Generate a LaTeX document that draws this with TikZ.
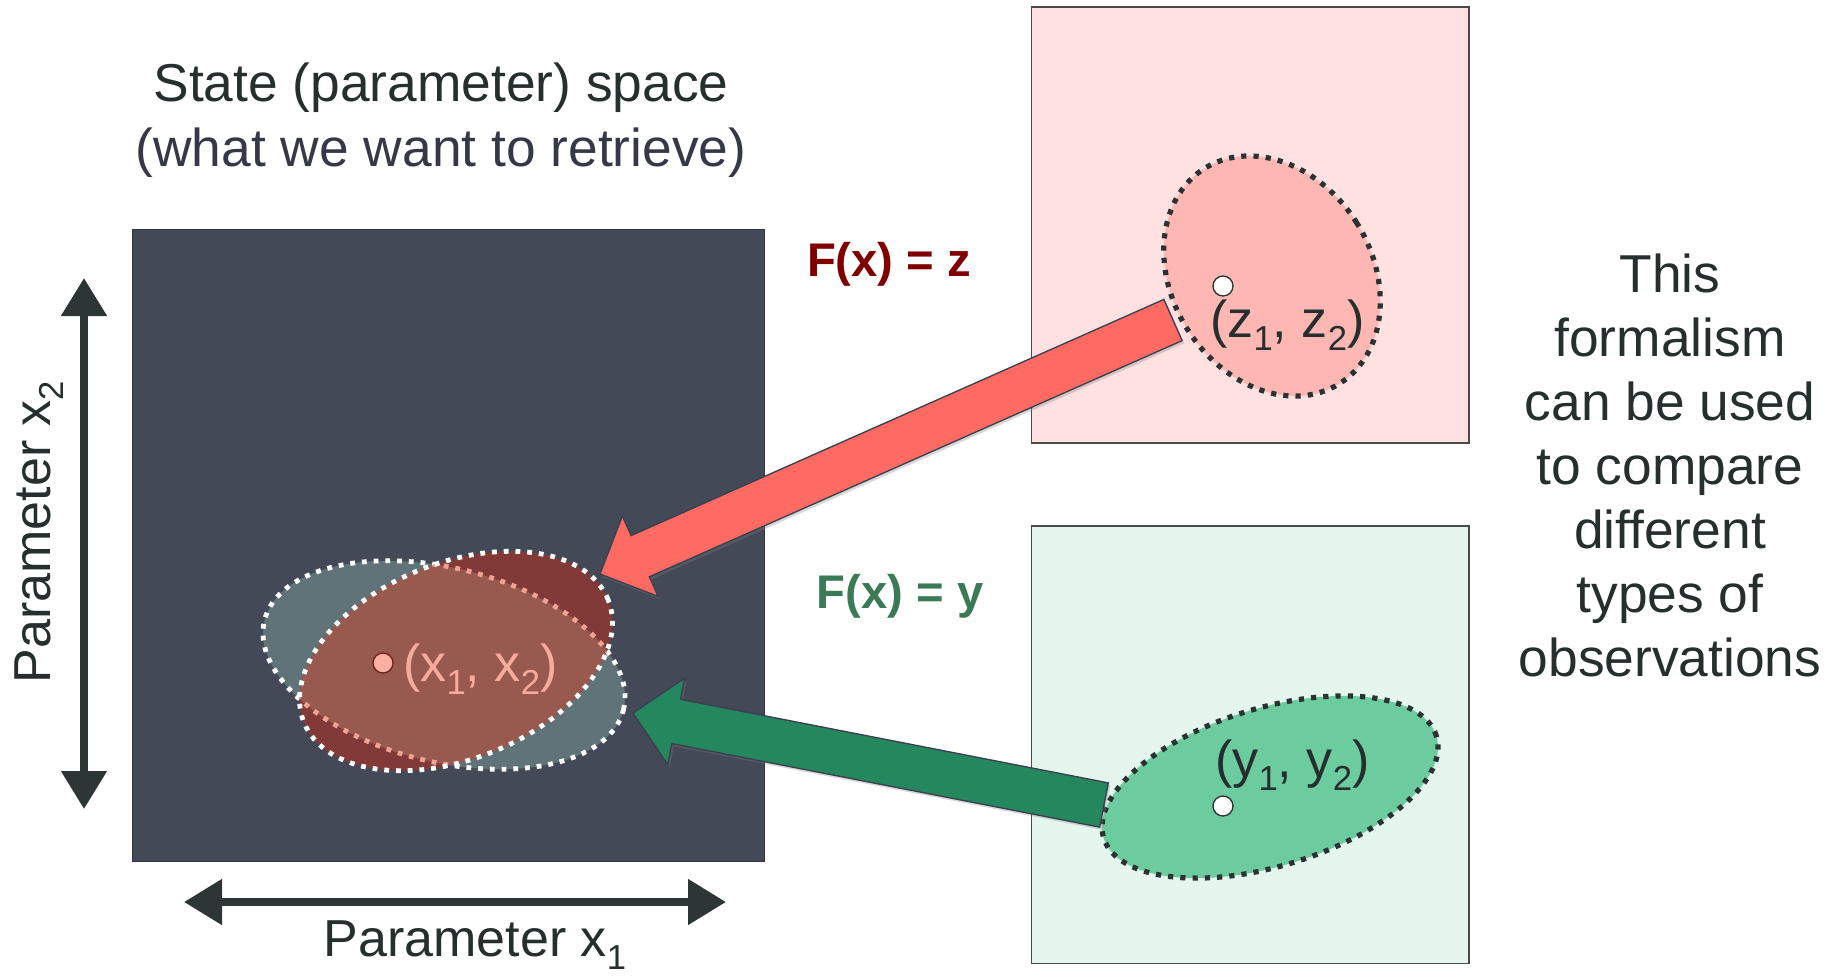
\documentclass[tikz,border=0pt]{standalone}
\usepackage{fontspec}
\setmainfont{Liberation Sans}
\usetikzlibrary{calc,arrows.meta,shadows}
\definecolor{darkbg}{HTML}{434957}
\definecolor{darkbd}{HTML}{30353F}
\definecolor{pinkbox}{HTML}{FFE1E1}
\definecolor{greenbox}{HTML}{E4F6ED}
\definecolor{boxbd}{HTML}{4A4A4A}
\definecolor{pinkell}{HTML}{FFB7B3}
\definecolor{greenell}{HTML}{6CCCA0}
\definecolor{pinkarrow}{HTML}{FF6A62}
\definecolor{greenarrow}{HTML}{24875E}
\definecolor{arrowbd}{HTML}{3A4050}
\definecolor{zcol}{HTML}{800000}
\definecolor{ycol}{HTML}{3B7A56}
\definecolor{grayell}{HTML}{607379}
\definecolor{redell}{HTML}{823A38}
\definecolor{overlapc}{HTML}{98594E}
\definecolor{overlapbd}{HTML}{F0A393}
\definecolor{salmon}{HTML}{F7AB9D}
\definecolor{salmondot}{HTML}{FFB0A4}
\definecolor{salmonbd}{HTML}{6E2418}
\definecolor{dotdark}{HTML}{2B3232}
\definecolor{txt}{HTML}{262E2E}
\definecolor{txttwo}{HTML}{363848}
\definecolor{axcol}{HTML}{2D3535}
\newcommand\sub[1]{\raisebox{-0.25em}{\fontsize{26pt}{26pt}\selectfont #1}}
\newcommand\blockarrow[3]{%
  \coordinate (#1-b) at ($(#2)!33pt!(#1)$);
  \path[#3] ($(#1)!16.9pt!90:(#2)$) -- ($(#1-b)!16.9pt!90:(#2)$) -- ($(#1-b)!33pt!90:(#2)$) -- (#2) -- ($(#1-b)!33pt!-90:(#2)$) -- ($(#1-b)!16.9pt!-90:(#2)$) -- ($(#1)!16.9pt!-90:(#2)$) -- cycle;}
\begin{document}
\begin{tikzpicture}[x=0.75pt,y=0.75pt,
  lbl/.style={font=\fontsize{39pt}{47pt}\selectfont, inner sep=0pt},
  big/.style={font=\fontsize{40pt}{48pt}\selectfont, inner sep=0pt, text=txt},
  flbl/.style={font=\fontsize{35.4pt}{42pt}\selectfont\bfseries, inner sep=0pt},
  wdot/.style={draw=white, line width=3.6pt, dash pattern=on 3.6pt off 5.2pt},
  pdot/.style={draw=overlapbd, line width=3.6pt, dash pattern=on 3.6pt off 5.2pt},
  ddot/.style={draw=dotdark, line width=3.9pt, dash pattern=on 3.9pt off 5.3pt},
  wpt/.style={circle, fill=white, draw=dotdark, line width=1pt, minimum size=15pt, inner sep=0pt},
  boxst/.style={anchor=north west, inner sep=0pt, outer sep=0pt, line width=1.1pt},
  axisarrow/.style={draw=axcol, line width=6pt, {Triangle[length=28.5pt,width=33pt]}-{Triangle[length=28.5pt,width=33pt]}},
  barrow/.style={line width=1pt, draw=arrowbd, drop shadow={shadow xshift=1.5pt, shadow yshift=-2pt, opacity=0.3}}
]
\useasboundingbox (0,0) rectangle (1838,-976);
\fill[white] (0,0) rectangle (1838,-976);

% boxes
\node[boxst, draw=darkbd, fill=darkbg, minimum width=473.9pt, minimum height=473.9pt] (state) at (132.5,-229.7) {};
\node[boxst, draw=boxbd, fill=pinkbox, minimum width=328pt, minimum height=327pt] (zbox) at (1031.5,-7) {};
\node[boxst, draw=boxbd, fill=greenbox, minimum width=328pt, minimum height=328pt] (ybox) at (1031.5,-526) {};

% title
\node[big, anchor=base] (t1) at (441,-101) {State (parameter) space};
\node[big, anchor=base, text=txttwo] (t2) at (441,-166) {(what we want to retrieve)};

% right text
\foreach \t [count=\i from 0] in {This, formalism, can be used, to compare, different, types of, observations}
  \node[big, anchor=base] (r\i) at (1670,{-292-64*\i}) {\t};

% F labels
\node[flbl, text=zcol, anchor=base] (fz) at (889,-276) {F(x) = z};
\node[flbl, text=ycol, anchor=base] (fy) at (900,-608) {F(x) = y};

% axes
\coordinate (v1) at (84,-278); \coordinate (v2) at (84,-809);
\draw[axisarrow] (v1) -- (v2);
\coordinate (h1) at (184,-902); \coordinate (h2) at (726,-902);
\draw[axisarrow] (h1) -- (h2);
\node[lbl, text=txt, anchor=base] (px1) at (475,-956) {Parameter x\sub{1}};
\node[lbl, text=txt, anchor=base, rotate=90] (px2) at (50,-532) {Parameter x\sub{2}};

% state-space ellipses
\path[fill=grayell, rotate around={-14:(444,-665)}] (444,-665) ellipse [x radius=138.75pt, y radius=72.75pt];
\path[wdot, rotate around={-14:(444,-665)}] (444,-665) ellipse [x radius=138.75pt, y radius=72.75pt];
\path[fill=redell, rotate around={22:(456,-661)}] (456,-661) ellipse [x radius=123pt, y radius=73.5pt];
\begin{scope}
  \clip[rotate around={22:(456,-661)}] (456,-661) ellipse [x radius=123pt, y radius=73.5pt];
  \path[fill=overlapc, rotate around={-14:(444,-665)}] (444,-665) ellipse [x radius=138.75pt, y radius=72.75pt];
  \path[pdot, rotate around={-14:(444,-665)}] (444,-665) ellipse [x radius=138.75pt, y radius=72.75pt];
\end{scope}
\path[wdot, rotate around={22:(456,-661)}] (456,-661) ellipse [x radius=123pt, y radius=73.5pt];
\node[circle, fill=salmondot, draw=salmonbd, line width=1pt, minimum size=15pt, inner sep=0pt] (xpt) at (383,-663) {};
\node[lbl, text=salmon, anchor=base west] (xlab) at (403,-681) {(x\sub{1}, x\sub{2})};

% observation ellipses
\path[fill=pinkell, ddot, rotate around={32:(1272,-276)}] (1272,-276) ellipse [x radius=75pt, y radius=95.25pt];
\node[wpt] (zpt) at (1223,-286) {};
\node[lbl, text=txt, anchor=base west] (zlab) at (1210,-337) {(z\sub{1}, z\sub{2})};

\path[fill=greenell, ddot, rotate around={17:(1270,-787)}] (1270,-787) ellipse [x radius=130.5pt, y radius=59.25pt];
\node[wpt] (ypt) at (1223,-806) {};
\node[lbl, text=txt, anchor=base west] (ylab) at (1215,-777) {(y\sub{1}, y\sub{2})};

% block arrows
\coordinate (ztail) at (1173,-320); \coordinate (ztip) at (600,-574);
\blockarrow{ztail}{ztip}{fill=pinkarrow, barrow}
\coordinate (ytail) at (1104,-805); \coordinate (ytip) at (633,-713);
\blockarrow{ytail}{ytip}{fill=greenarrow, barrow}
\end{tikzpicture}
\end{document}
